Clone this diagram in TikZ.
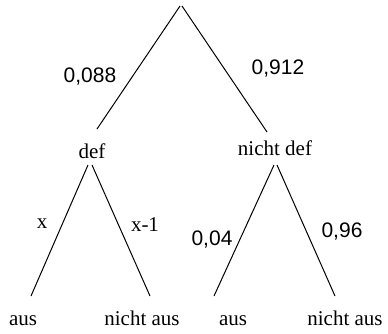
\documentclass[tikz,border=0pt]{standalone}
\usepackage{fontspec}
\setmainfont{Liberation Serif}
\newfontfamily\lsans{Liberation Sans}
\begin{document}
\begin{tikzpicture}[x=1pt,y=-1pt,
  branch/.style={draw=black,line width=1pt},
  prob/.style={inner sep=0pt,anchor=base,font=\lsans\fontsize{21}{21}\selectfont},
  serlab/.style={inner sep=0pt,anchor=base,font=\fontsize{21}{21}\selectfont},
  evt/.style={inner sep=0pt,anchor=base,font=\fontsize{21}{21}\selectfont}]
\useasboundingbox (0,0) rectangle (388,333);
% branch end points
\coordinate (r1) at (180,6);
\coordinate (r2) at (182,6);
\coordinate (dtop) at (97,129);
\coordinate (ntop) at (267,132);
\coordinate (dl) at (88,165);
\coordinate (dr) at (92,165);
\coordinate (nl) at (274,165);
\coordinate (nr) at (277,165);
\coordinate (a1) at (31,296);
\coordinate (b1) at (150,296);
\coordinate (a2) at (214,296);
\coordinate (b2) at (335,296);
\draw[branch] (r1) -- (dtop);
\draw[branch] (r2) -- (ntop);
\draw[branch] (dl) -- (a1);
\draw[branch] (dr) -- (b1);
\draw[branch] (nl) -- (a2);
\draw[branch] (nr) -- (b2);
% probabilities
\node[prob] (p1) at (90,82) {0,088};
\node[prob] (p2) at (278,74) {0,912};
\node[prob] (p5) at (212,245) {0,04};
\node[prob] (p6) at (342,237) {0,96};
\node[serlab] (p3) at (42,228) {x};
\node[serlab] (p4) at (145,231) {x-1};
% events
\node[evt] (def) at (92,158) {def};
\node[evt] (ndef) at (275,155) {nicht def};
\node[evt] (e1) at (23,325) {aus};
\node[evt] (e2) at (142,325) {nicht aus};
\node[evt] (e3) at (233,325) {aus};
\node[evt] (e4) at (345,325) {nicht aus};
\end{tikzpicture}
\end{document}
